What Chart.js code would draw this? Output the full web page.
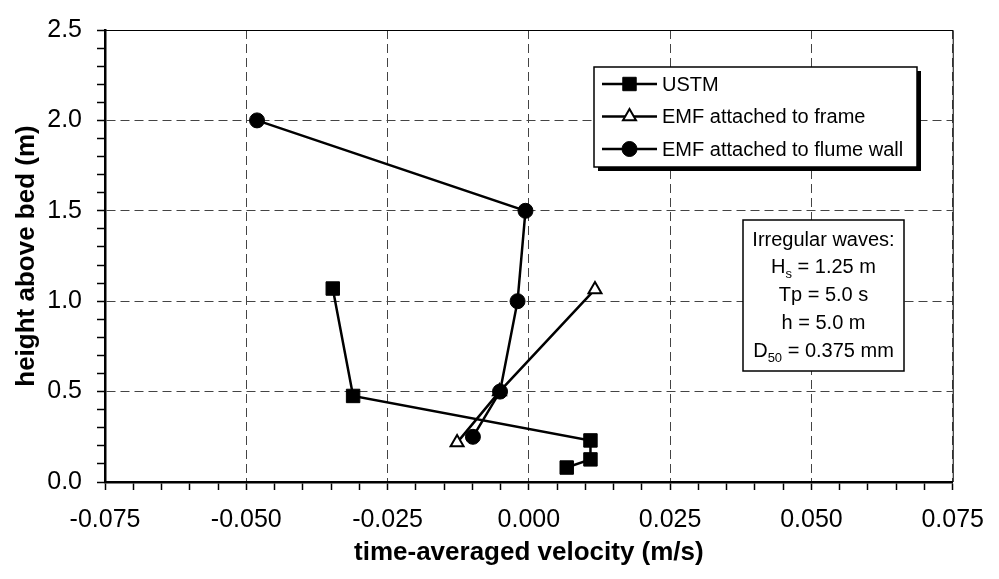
<!DOCTYPE html>
<html>
<head>
<meta charset="utf-8">
<title>Velocity profile</title>
<script src="https://cdn.jsdelivr.net/npm/chart.js@4/dist/chart.umd.min.js"></script>
<style>
  html, body { margin: 0; padding: 0; background: #fff; }
  #wrap { width: 999px; height: 579px; }
</style>
</head>
<body>
<div id="wrap"><canvas id="perfil" width="999" height="579"></canvas></div>
<script>
// measured profiles: velocity (m/s) against height above bed (m)
const velUSTM = [0.0067, 0.0109, 0.0109, -0.0311, -0.0347];
const hUSTM = [0.08, 0.125, 0.23, 0.476, 1.07];
const velFrame = [-0.0127, -0.0052, 0.0117];
const hFrame = [0.218, 0.5, 1.065];
const velWall = [-0.0481, -0.0006, -0.0020, -0.0051, -0.0099];
const hWall = [2.0, 1.5, 1.0, 0.5, 0.25];

const seriesNames = ['USTM', 'EMF attached to frame', 'EMF attached to flume wall'];

// axis ticks: labelled majors, unlabelled minors in between
const xMajor = [-0.075, -0.05, -0.025, 0, 0.025, 0.05, 0.075];
const yMajor = [0, 0.5, 1.0, 1.5, 2.0, 2.5];
const xMinorStep = 0.005;
const yMinorStep = 0.1;

// test case text in the boxed note
const noteLines = [
  [['Irregular waves:']],
  [['H'], ['s', 'sub'], [' = 1.25 m']],
  [['Tp = 5.0 s']],
  [['h = 5.0 m']],
  [['D'], ['50', 'sub'], [' = 0.375 mm']]
];

const FONT = '"Liberation Sans", Arial, Helvetica, sans-serif';

function pts(xs, ys) {
  return xs.map((x, i) => ({ x: x, y: ys[i] }));
}

function isMajor(v, list) {
  return list.some(m => Math.abs(m - v) < 1e-7);
}

// top and right frame lines
const frameLines = {
  id: 'frameLines',
  afterDatasetsDraw(chart) {
    const { ctx, chartArea: a } = chart;
    ctx.save();
    ctx.strokeStyle = '#000';
    ctx.lineWidth = 1;
    ctx.beginPath();
    ctx.moveTo(a.left, a.top + 0.5);
    ctx.lineTo(a.right + 0.5, a.top + 0.5);
    ctx.lineTo(a.right + 0.5, a.bottom);
    ctx.stroke();
    ctx.restore();
  }
};

// framed legend with drop shadow, inside the plot
const boxedLegend = {
  id: 'boxedLegend',
  afterDraw(chart) {
    const { ctx } = chart;
    const bx = 594, by = 67, bw = 323, bh = 100;
    ctx.save();
    ctx.fillStyle = '#000';
    ctx.fillRect(bx + 4, by + 4, bw, bh);
    ctx.fillStyle = '#fff';
    ctx.fillRect(bx, by, bw, bh);
    ctx.strokeStyle = '#000';
    ctx.lineWidth = 1.5;
    ctx.strokeRect(bx, by, bw, bh);

    const rowY = [84, 116.5, 149];
    chart.data.datasets.forEach((ds, i) => {
      const y = rowY[i];
      ctx.strokeStyle = '#000';
      ctx.lineWidth = 2.5;
      ctx.beginPath();
      ctx.moveTo(602, y);
      ctx.lineTo(657, y);
      ctx.stroke();
      ctx.fillStyle = ds.pointBackgroundColor;
      ctx.strokeStyle = ds.pointBorderColor;
      ctx.lineWidth = ds.pointBorderWidth;
      Chart.helpers.drawPoint(ctx, {
        pointStyle: ds.pointStyle,
        radius: ds.pointRadius,
        borderWidth: ds.pointBorderWidth,
        rotation: 0
      }, 629.5, y);
      ctx.fillStyle = '#000';
      ctx.font = '20px ' + FONT;
      ctx.textBaseline = 'middle';
      ctx.textAlign = 'left';
      ctx.fillText(ds.label, 662, y + 1);
    });
    ctx.restore();
  }
};

// boxed note with the wave conditions
const conditionsNote = {
  id: 'conditionsNote',
  afterDraw(chart) {
    const { ctx } = chart;
    const bx = 743, by = 220, bw = 161, bh = 151;
    ctx.save();
    ctx.fillStyle = '#fff';
    ctx.fillRect(bx, by, bw, bh);
    ctx.strokeStyle = '#000';
    ctx.lineWidth = 1.5;
    ctx.strokeRect(bx, by, bw, bh);

    const cx = bx + bw / 2;
    ctx.fillStyle = '#000';
    ctx.textBaseline = 'alphabetic';
    ctx.textAlign = 'left';
    noteLines.forEach((line, i) => {
      const base = by + 25.7 + i * 27.75;
      let total = 0;
      const widths = line.map(seg => {
        ctx.font = (seg[1] === 'sub' ? '13px ' : '20px ') + FONT;
        const w = ctx.measureText(seg[0]).width;
        total += w;
        return w;
      });
      let x = cx - total / 2;
      line.forEach((seg, j) => {
        const sub = seg[1] === 'sub';
        ctx.font = (sub ? '13px ' : '20px ') + FONT;
        ctx.fillText(seg[0], x, sub ? base + 5 : base);
        x += widths[j];
      });
    });
    ctx.restore();
  }
};

const ctx = document.getElementById('perfil').getContext('2d');

new Chart(ctx, {
  type: 'scatter',
  data: {
    datasets: [
      {
        label: seriesNames[0],
        data: pts(velUSTM, hUSTM),
        showLine: true,
        borderColor: '#000',
        borderWidth: 2.5,
        pointStyle: 'rect',
        pointRadius: 9.5,
        pointBackgroundColor: '#000',
        pointBorderColor: '#000',
        pointBorderWidth: 1,
        order: 0
      },
      {
        label: seriesNames[1],
        data: pts(velFrame, hFrame),
        showLine: true,
        borderColor: '#000',
        borderWidth: 2.5,
        pointStyle: 'triangle',
        pointRadius: 7.5,
        pointBackgroundColor: '#fff',
        pointBorderColor: '#000',
        pointBorderWidth: 2,
        order: 2
      },
      {
        label: seriesNames[2],
        data: pts(velWall, hWall),
        showLine: true,
        borderColor: '#000',
        borderWidth: 2.5,
        pointStyle: 'circle',
        pointRadius: 7.5,
        pointBackgroundColor: '#000',
        pointBorderColor: '#000',
        pointBorderWidth: 1,
        order: 1
      }
    ]
  },
  options: {
    responsive: false,
    animation: false,
    devicePixelRatio: 1,
    layout: { padding: { left: 0, top: 23, right: 38, bottom: 0 } },
    plugins: {
      legend: { display: false },
      tooltip: { enabled: false }
    },
    scales: {
      x: {
        type: 'linear',
        min: -0.075,
        max: 0.075,
        afterFit: (scale) => { scale.height = 97; },
        border: { display: true, color: '#000', width: 2.5, dash: [9, 5] },
        grid: {
          color: (c) => (c.tick && isMajor(c.tick.value, xMajor)) ? '#444' : 'rgba(0,0,0,0)',
          lineWidth: 1,
          drawTicks: true,
          tickLength: 8,
          tickColor: '#000',
          tickWidth: 1.5,
          tickBorderDash: []
        },
        ticks: {
          stepSize: xMinorStep,
          autoSkip: false,
          maxRotation: 0,
          padding: 15,
          color: '#000',
          font: { family: FONT, size: 25 },
          callback: (v) => isMajor(v, xMajor) ? v.toFixed(3) : ''
        },
        title: {
          display: true,
          text: 'time-averaged velocity (m/s)',
          color: '#000',
          font: { family: FONT, size: 26, weight: 'bold' },
          padding: { top: 0, bottom: 11 }
        }
      },
      y: {
        type: 'linear',
        min: 0,
        max: 2.5,
        afterFit: (scale) => { scale.width = 105; },
        border: { display: true, color: '#000', width: 2.5, dash: [9, 5] },
        grid: {
          color: (c) => (c.tick && isMajor(c.tick.value, yMajor)) ? '#444' : 'rgba(0,0,0,0)',
          lineWidth: 1,
          drawTicks: true,
          tickLength: 8,
          tickColor: '#000',
          tickWidth: 1.5,
          tickBorderDash: []
        },
        ticks: {
          stepSize: yMinorStep,
          autoSkip: false,
          padding: 15,
          color: '#000',
          font: { family: FONT, size: 25 },
          callback: (v) => isMajor(v, yMajor) ? v.toFixed(1) : ''
        },
        title: {
          display: true,
          text: 'height above bed (m)',
          color: '#000',
          font: { family: FONT, size: 26, weight: 'bold' },
          padding: { top: 11, bottom: 0 }
        }
      }
    }
  },
  plugins: [frameLines, boxedLegend, conditionsNote]
});
</script>
</body>
</html>
